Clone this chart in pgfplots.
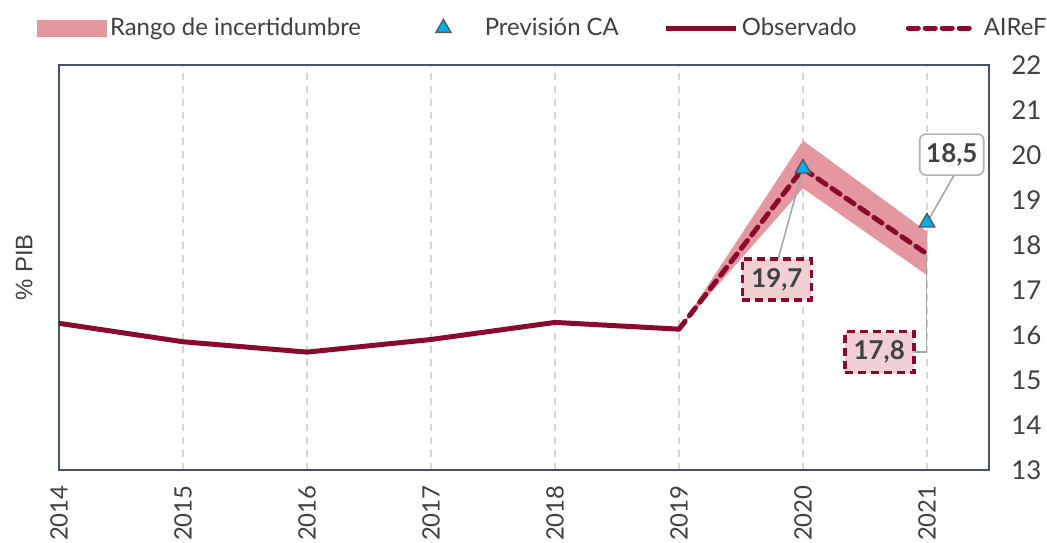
\documentclass[border=0pt]{standalone}
\usepackage{pgfplots}
\pgfplotsset{compat=1.18}
\usepackage{fontspec}
\setmainfont{Lato}
\newfontfamily\arialfont{Liberation Sans}
\definecolor{obs}{HTML}{8A0A2E}
\definecolor{band}{HTML}{E597A0}
\definecolor{ca}{HTML}{00B0F0}
\definecolor{framec}{HTML}{44546A}
\definecolor{gridc}{HTML}{D4D4D4}
\definecolor{boxfill}{HTML}{F0D0D3}
\definecolor{txt}{HTML}{404040}
\definecolor{leader}{HTML}{A6A6A6}
\begin{document}
\begin{tikzpicture}
\path[use as bounding box] (-29.5bp,-36.5bp) rectangle (494bp,235bp);
\begin{axis}[at={(0,0)}, anchor=south west, scale only axis,
  width=465bp, height=202.5bp,
  xmin=0, xmax=7.5, ymin=13, ymax=22,
  xtick={0,1,2,3,4,5,6,7},
  xticklabels={2014,2015,2016,2017,2018,2019,2020,2021},
  ytick={13,14,15,16,17,18,19,20,21,22},
  /pgf/number format/assume math mode=true,
  yticklabel pos=right,
  tick style={draw=none},
  xticklabel style={rotate=90, anchor=east, inner sep=0pt, font=\fontsize{12}{12}\selectfont, text=txt},
  xticklabel shift=7.5bp,
  yticklabel style={anchor=west, inner sep=0pt, font=\fontsize{13}{13}\selectfont, text=txt},
  yticklabel shift=11bp,
  axis line style={framec, line width=0.8bp},
  xmajorgrids,
  major grid style={gridc, line width=0.7bp, dash pattern=on 3.5bp off 3bp},
  ylabel={\% PIB},
  ylabel style={at={(rel axis cs:-0.028,0.5)}, anchor=south, rotate=0, inner sep=0pt, font=\arialfont\fontsize{12}{12}\selectfont, text=txt},
  legend columns=4,
  legend style={draw=none, fill=none, at={(rel axis cs:0,1)}, anchor=west,
    xshift=-11bp, yshift=18.5bp, inner sep=0pt, outer sep=0pt,
    font=\fontsize{12}{13}\selectfont, text=txt,
    nodes={inner sep=1.5bp},
    /tikz/every even column/.append style={column sep=21bp}},
]
\addplot[fill=band, draw=none,
  legend image code/.code={\fill[band] (0bp,-4.25bp) rectangle (35bp,4.25bp);}]
  coordinates {(5,16.13) (6,20.32) (7,18.3) (7,17.33) (6,19.26) (5,16.13)} -- cycle;
\addlegendentry{Rango de incertidumbre}
\addplot[only marks, mark=triangle*, mark size=4.5bp,
  mark options={fill=ca, draw=black!65, line width=0.7bp},
  legend image code/.code={\path (0bp,0bp) (37.5bp,0bp); \draw[only marks, mark=triangle*, mark size=4.3bp, mark options={fill=ca, draw=black!65, line width=0.7bp}] plot coordinates {(18.5bp,0bp)};}]
  coordinates {(6,19.7) (7,18.5)};
\addlegendentry{Previsión CA}
\addplot[obs, line width=2.5bp, line join=round,
  legend image code/.code={\draw[obs, line width=2.5bp] (0bp,0bp) -- (35bp,0bp);}]
  coordinates {(0,16.26) (1,15.85) (2,15.62) (3,15.90) (4,16.28) (5,16.13)};
\addlegendentry{Observado}
\addplot[obs, line width=2.5bp, dash pattern=on 5bp off 3.5bp, line cap=round,
  legend image code/.code={\path (-2bp,0bp); \draw[obs, line width=2.5bp, dash pattern=on 5bp off 3.5bp, line cap=round] (0bp,0bp) -- (33bp,0bp); \path (35bp,0bp);}]
  coordinates {(5,16.13) (6,19.7) (7,17.8)};
\addlegendentry{AIReF}
\draw[leader, line width=0.8bp] (axis cs:5.80,17.69) -- (axis cs:6,19.7);
\draw[leader, line width=0.8bp] (axis cs:6.89,15.62) -- (axis cs:6.995,15.62) -- (axis cs:6.995,17.8);
\draw[leader, line width=0.8bp] (axis cs:7.22,19.56) -- (axis cs:7.0,18.5);
\node[draw=obs, line width=1.8bp, dash pattern=on 4bp off 2.5bp, fill=boxfill,
  minimum width=34.5bp, minimum height=20.5bp, inner sep=0pt, text=txt,
  font=\bfseries\fontsize{13}{13}\selectfont] at (axis cs:5.79,17.23) {19,7};
\node[draw=obs, line width=1.8bp, dash pattern=on 4bp off 2.5bp, fill=boxfill,
  minimum width=34.5bp, minimum height=20.5bp, inner sep=0pt, text=txt,
  font=\bfseries\fontsize{13}{13}\selectfont] at (axis cs:6.615,15.62) {17,8};
\node[draw=black!30, line width=0.8bp, rounded corners=3bp, fill=white,
  minimum width=32bp, minimum height=20.5bp, inner sep=0pt, text=txt,
  font=\bfseries\fontsize{13}{13}\selectfont] at (axis cs:7.2,20.01) {18,5};
\end{axis}
\end{tikzpicture}
\end{document}
